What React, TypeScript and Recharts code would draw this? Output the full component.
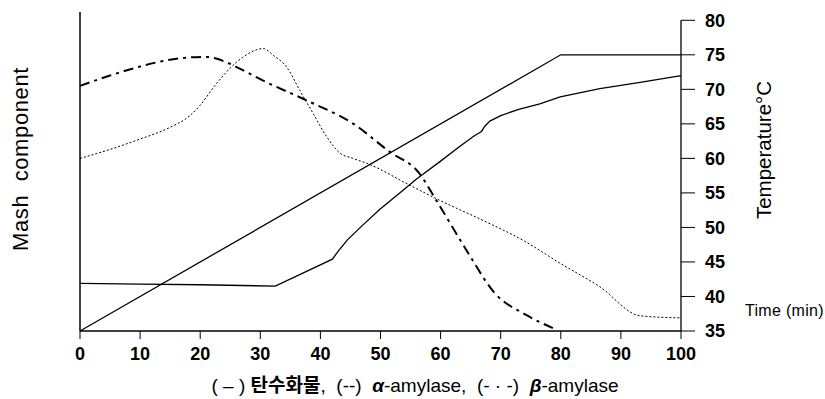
import React from 'react'
import {
  ComposedChart,
  Line,
  XAxis,
  YAxis,
  ReferenceLine,
} from 'recharts'

// time (min) and values, all on the temperature scale
const TEMP_T = [0, 80, 100]
const TEMP_V = [35, 75, 75]

const CARB_T = [0, 10, 20, 32.5, 42, 43, 44.5, 47, 50, 53.2, 56, 60, 63, 65.5, 66.8, 67.4, 68.2, 70, 73, 76.5, 79.9, 86.5, 93.2, 100]
const CARB_V = [41.9, 41.8, 41.7, 41.5, 45.4, 46.6, 48.2, 50.3, 52.7, 55.0, 57.0, 59.6, 61.6, 63.2, 63.9, 64.7, 65.4, 66.2, 67.1, 67.9, 68.9, 70.1, 71.0, 72.0]

const ALPHA_T = [0, 5, 10, 15, 18.3, 20, 22.5, 24.9, 27, 30.5, 32.2, 34.4, 36.6, 38.8, 41, 43.2, 45.4, 47.7, 54.9, 59.9, 67.1, 74, 79.9, 86.5, 93.2, 100]
const ALPHA_V = [60.0, 61.3, 62.8, 64.5, 66.2, 67.7, 70.6, 73.0, 74.6, 75.9, 74.9, 73.2, 69.8, 66.5, 63.2, 60.8, 60.0, 59.3, 56.1, 53.9, 51.0, 48.0, 44.8, 41.4, 37.2, 36.9]

const BETA_T = [0, 5, 10, 14.4, 18, 21, 22.5, 24.4, 27.7, 31.1, 37.7, 45.5, 51.6, 56.3, 59.3, 64.3, 69, 74.3, 79]
const BETA_V = [70.5, 72.0, 73.3, 74.2, 74.6, 74.7, 74.5, 73.9, 72.5, 71.0, 68.4, 65.0, 60.9, 58.0, 53.9, 46.7, 40.5, 37.3, 35.3]

const X_TICKS = [0, 10, 20, 30, 40, 50, 60, 70, 80, 90, 100]
const Y_TICKS = [35, 40, 45, 50, 55, 60, 65, 70, 75, 80]

const pts = (t: number[], v: number[]) => t.map((x, i) => ({ t: x, v: v[i] }))

const tickFont = { fontSize: 18, fill: '#000', fontFamily: 'Liberation Sans, Arial', fontWeight: 700 }

export default function App() {
  return (
    <div style={{ position: 'absolute', left: 0, top: 0, width: 825, height: 399, background: '#fff', fontFamily: 'Liberation Sans, Arial' }}>
      <ComposedChart width={825} height={399} margin={{ top: 12, right: 0, bottom: 0, left: 0 }}>
        <XAxis
          type="number"
          dataKey="t"
          domain={[0, 100]}
          ticks={X_TICKS}
          height={68}
          tickSize={8}
          tickMargin={8}
          tick={tickFont}
          stroke="#000"
          axisLine={{ stroke: '#000', strokeWidth: 1.3 }}
          tickLine={{ stroke: '#000' }}
        />
        <YAxis
          yAxisId="l"
          orientation="left"
          domain={[35, 81.2]}
          width={80}
          tick={false}
          tickLine={false}
          axisLine={{ stroke: '#000', strokeWidth: 1.5 }}
        />
        <YAxis
          yAxisId="r"
          orientation="right"
          type="number"
          domain={[35, 81.2]}
          ticks={Y_TICKS}
          width={144}
          tickSize={14}
          tickMargin={10}
          tick={{ ...tickFont, textAnchor: 'start' }}
          axisLine={false}
          tickLine={{ stroke: '#000' }}
        />
        <ReferenceLine
          yAxisId="r"
          segment={[{ x: 100, y: 35 }, { x: 100, y: 80 }]}
          stroke="#000"
          strokeWidth={1.3}
        />
        <Line yAxisId="r" data={pts(TEMP_T, TEMP_V)} dataKey="v" type="linear" stroke="#000" strokeWidth={1.3} dot={false} isAnimationActive={false} />
        <Line yAxisId="r" data={pts(CARB_T, CARB_V)} dataKey="v" type="linear" stroke="#000" strokeWidth={1.3} dot={false} isAnimationActive={false} />
        <Line yAxisId="r" data={pts(ALPHA_T, ALPHA_V)} dataKey="v" type="monotone" stroke="#000" strokeWidth={1} strokeDasharray="2 2" dot={false} isAnimationActive={false} />
        <Line yAxisId="r" data={pts(BETA_T, BETA_V)} dataKey="v" type="monotone" stroke="#000" strokeWidth={2} strokeDasharray="10 5 3 5" dot={false} isAnimationActive={false} />
      </ComposedChart>

      <div style={{ position: 'absolute', left: 21, top: 159, transform: 'translate(-50%, -50%) rotate(-90deg)', whiteSpace: 'nowrap', fontSize: 22, color: '#000', letterSpacing: 0.6 }}>
        Mash&nbsp;&nbsp;component
      </div>
      <div style={{ position: 'absolute', left: 764, top: 150, transform: 'translate(-50%, -50%) rotate(-90deg)', whiteSpace: 'nowrap', fontSize: 20.5, color: '#000' }}>
        Temperature°C
      </div>
      <div style={{ position: 'absolute', left: 745, top: 302, whiteSpace: 'nowrap', fontSize: 16, color: '#000', letterSpacing: 0.3 }}>
        Time (min)
      </div>
      <div style={{ position: 'absolute', left: 415, top: 383, transform: 'translate(-50%, -50%)', whiteSpace: 'nowrap', fontSize: 19, color: '#000', fontFamily: 'Liberation Sans, "Noto Sans CJK KR"' }}>
        (&nbsp;–&nbsp;)&nbsp;<span style={{ fontWeight: 700 }}>탄수화물</span>, &nbsp;(--) &nbsp;<b><i>α</i></b>-amylase, &nbsp;(- · -) &nbsp;<b><i>β</i></b>-amylase
      </div>
    </div>
  )
}
